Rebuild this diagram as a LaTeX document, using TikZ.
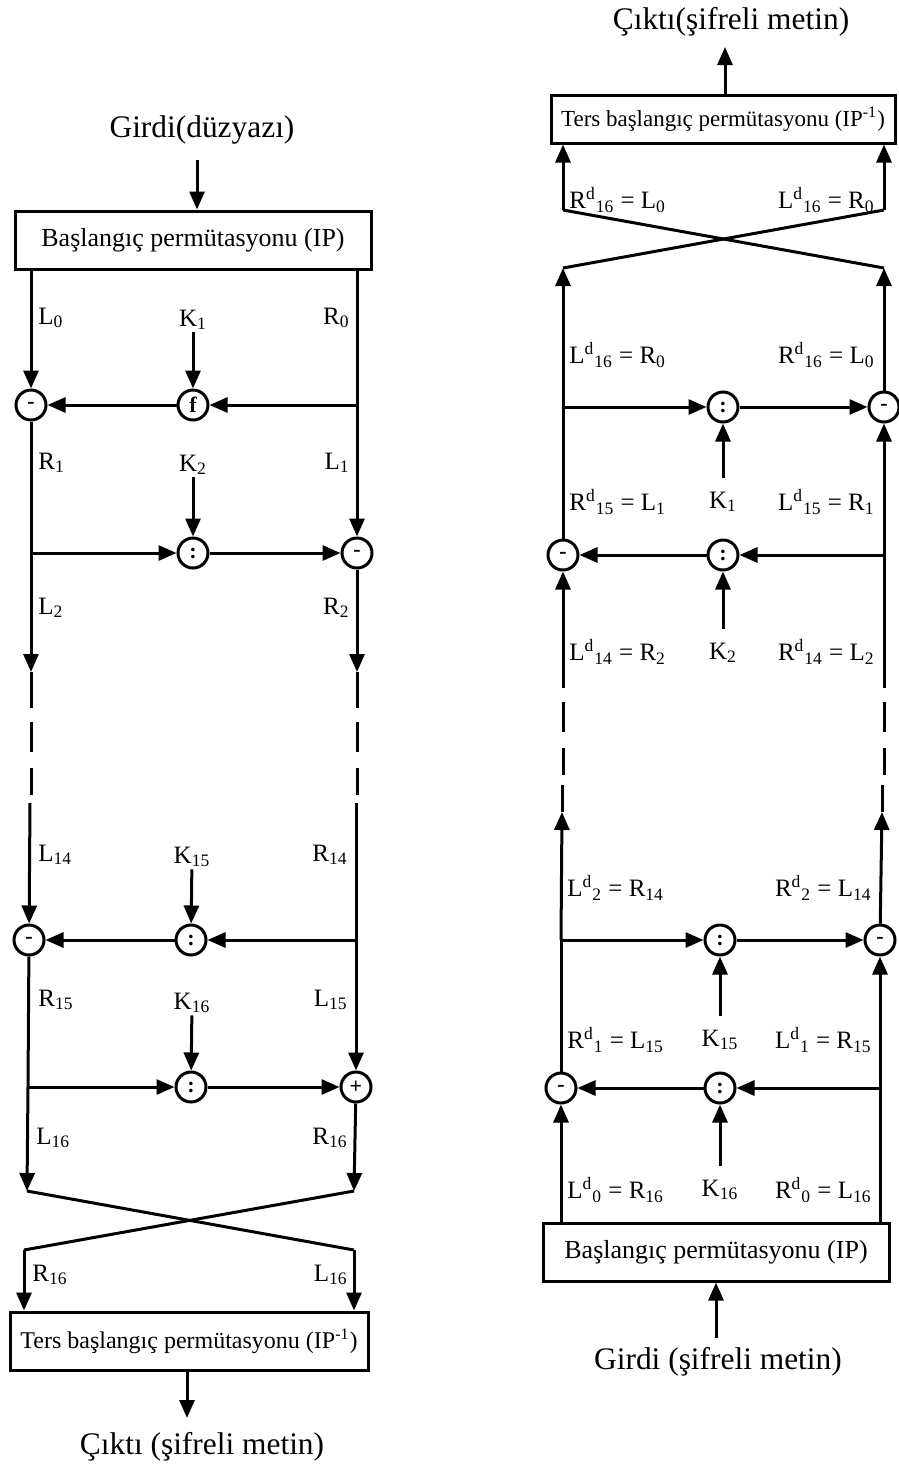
\documentclass[tikz,border=0pt]{standalone}
\usepackage{fontspec}
\setmainfont{Liberation Serif}
\usetikzlibrary{arrows.meta}

\newcommand{\Ld}[1]{L\textsuperscript{d}\textsubscript{#1}}
\newcommand{\Rd}[1]{R\textsuperscript{d}\textsubscript{#1}}

\tikzset{
  wire/.style={line width=1.5pt},
  arr/.style={wire,-{Triangle[length=9pt,width=7.5pt]}},
  dashwire/.style={wire,dash pattern=on 15pt off 8pt},
  opc/.style={circle,draw,line width=1.5pt,minimum size=15pt,inner sep=0pt,
    fill=white,font=\fontsize{11}{11}\selectfont\bfseries},
  permbox/.style={draw,line width=1.5pt,inner sep=0pt,minimum height=29pt,
    font=\fontsize{13}{15}\selectfont},
  lbl/.style={inner sep=1pt,font=\fontsize{12.5}{14}\selectfont},
  io/.style={inner sep=1pt,font=\fontsize{15.7}{18}\selectfont}
}

\begin{document}
\begin{tikzpicture}[x=0.5pt,y=-0.5pt]
    \useasboundingbox (0,0) rectangle (899,1469);

    % ---------------- Left: encryption ----------------
    \node[io] (inL) at (202,130) {Girdi(düzyazı)};
    \node[permbox,minimum width=178pt] (ipL) at (193,240) {Başlangıç permütasyonu (IP)};
    \coordinate (ga) at (197,160);
    \draw[arr] (ga) -- (ga |- ipL.north);

    % round 1
    \node[opc] (xl1) at (31,405) {-};
    \node[opc] (fl1) at (193,405) {f};
    \node[lbl] (kl1) at (193,320) {K\textsubscript{1}};
    \coordinate (rb1) at (357,405);
    \draw[arr] (xl1 |- ipL.south) -- (xl1);
    \draw[wire] (rb1 |- ipL.south) -- (rb1);
    \draw[arr] (rb1) -- (fl1);
    \draw[arr] (fl1) -- (xl1);
    \draw[arr] (kl1) -- (fl1);
    \node[lbl,anchor=west] (tl0) at (36,318) {L\textsubscript{0}};
    \node[lbl,anchor=east] (tr0) at (352,318) {R\textsubscript{0}};

    % round 2
    \node[opc] (xr2) at (357,553) {-};
    \node[opc] (fl2) at (193,553) {:};
    \node[lbl] (kl2) at (193,465) {K\textsubscript{2}};
    \coordinate (lb2) at (31,553);
    \draw[arr] (rb1) -- (xr2);
    \draw[wire] (xl1) -- (lb2);
    \draw[arr] (lb2) -- (fl2);
    \draw[arr] (fl2) -- (xr2);
    \draw[arr] (kl2) -- (fl2);
    \node[lbl,anchor=west] (tl1) at (36,463) {R\textsubscript{1}};
    \node[lbl,anchor=east] (tr1) at (352,463) {L\textsubscript{1}};

    % gap with dashes
    \coordinate (la2) at (31,672);  \coordinate (ra2) at (357,672);
    \coordinate (le2) at (31,708);  \coordinate (re2) at (357,708);
    \coordinate (ls2) at (31,722);  \coordinate (rs2) at (357,722);
    \coordinate (lt2) at (31,795);  \coordinate (rt2) at (357,795);
    \coordinate (lc2) at (30,803);  \coordinate (rc2) at (356,803);
    \draw[arr] (lb2) -- (la2);
    \draw[wire] (la2) -- (le2);
    \draw[arr] (xr2) -- (ra2);
    \draw[wire] (ra2) -- (re2);
    \draw[dashwire] (ls2) -- (lt2);
    \draw[dashwire] (rs2) -- (rt2);
    \node[lbl,anchor=west] (tl2) at (36,608) {L\textsubscript{2}};
    \node[lbl,anchor=east] (tr2) at (352,608) {R\textsubscript{2}};

    % round 15
    \node[opc] (xl3) at (29,940) {-};
    \node[opc] (fl3) at (191,940) {:};
    \node[lbl] (kl3) at (192,857) {K\textsubscript{15}};
    \coordinate (rb3) at (356,940);
    \draw[arr] (lc2) -- (xl3);
    \draw[wire] (rc2) -- (rb3);
    \draw[arr] (rb3) -- (fl3);
    \draw[arr] (fl3) -- (xl3);
    \draw[arr] (kl3) -- (fl3);
    \node[lbl,anchor=west] (tl14) at (36,855) {L\textsubscript{14}};
    \node[lbl,anchor=east] (tr14) at (350,855) {R\textsubscript{14}};

    % round 16
    \node[opc] (xr4) at (356,1087) {+};
    \node[opc] (fl4) at (191,1087) {:};
    \node[lbl] (kl4) at (192,1003) {K\textsubscript{16}};
    \coordinate (lb4) at (28,1087);
    \draw[arr] (rb3) -- (xr4);
    \draw[wire] (xl3) -- (lb4);
    \draw[arr] (lb4) -- (fl4);
    \draw[arr] (fl4) -- (xr4);
    \draw[arr] (kl4) -- (fl4);
    \node[lbl,anchor=west] (tl15) at (36,1000) {R\textsubscript{15}};
    \node[lbl,anchor=east] (tr15) at (350,1000) {L\textsubscript{15}};
    \node[lbl,anchor=west] (tl16) at (34,1138) {L\textsubscript{16}};
    \node[lbl,anchor=east] (tr16) at (350,1138) {R\textsubscript{16}};

    % swap
    \coordinate (cl1) at (27,1191);  \coordinate (cr1) at (354,1191);
    \coordinate (cl2) at (24,1250);  \coordinate (cr2) at (354,1250);
    \draw[arr] (lb4) -- (cl1);
    \draw[arr] (xr4) -- (cr1);
    \draw[wire] (cl1) -- (cr2);
    \draw[wire] (cr1) -- (cl2);

    \node[permbox,minimum width=179pt] (opL) at (189,1341)
        {\fontsize{12}{14}\selectfont Ters başlangıç permütasyonu (IP\textsuperscript{-1})};
    \draw[arr] (cl2) -- (cl2 |- opL.north);
    \draw[arr] (cr2) -- (cr2 |- opL.north);
    \node[lbl,anchor=west] (tl17) at (30,1275) {R\textsubscript{16}};
    \node[lbl,anchor=east] (tr17) at (350,1275) {L\textsubscript{16}};

    \node[io] (outL) at (202,1447) {Çıktı (şifreli metin)};
    \coordinate (oa) at (187,1418);
    \draw[arr] (opL.south -| oa) -- (oa);

    % ---------------- Right: decryption ----------------
    \node[io] (outR) at (731,22) {Çıktı(şifreli metin)};
    \node[permbox,minimum width=172pt,minimum height=24pt] (opR) at (723,119)
        {\fontsize{11.5}{13}\selectfont Ters başlangıç permütasyonu (IP\textsuperscript{-1})};
    \coordinate (oR) at (725,47);
    \draw[arr] (opR.north -| oR) -- (oR);

    % swap
    \coordinate (ct1) at (563,210);  \coordinate (ct2) at (884,210);
    \coordinate (cb1) at (563,268);  \coordinate (cb2) at (884,268);
    \draw[arr] (ct1) -- (ct1 |- opR.south);
    \draw[arr] (ct2) -- (ct2 |- opR.south);
    \draw[wire] (cb1) -- (ct2);
    \draw[wire] (cb2) -- (ct1);
    \node[lbl,anchor=west] (sl0) at (567,200) {\Rd{16} = L\textsubscript{0}};
    \node[lbl,anchor=east] (sr0) at (877,200) {\Ld{16} = R\textsubscript{0}};

    % round 1 (K1)
    \node[opc] (xr1) at (884,407) {-};
    \node[opc] (fr1) at (723,407) {:};
    \node[lbl] (kr1) at (723,502) {K\textsubscript{1}};
    \coordinate (lb1) at (563,407);
    \draw[arr] (xr1) -- (cb2);
    \draw[arr] (lb1) -- (cb1);
    \draw[arr] (lb1) -- (fr1);
    \draw[arr] (fr1) -- (xr1);
    \draw[arr,shorten <=6pt] (kr1) -- (fr1);
    \node[lbl,anchor=west] (sl1) at (567,355) {\Ld{16} = R\textsubscript{0}};
    \node[lbl,anchor=east] (sr1) at (877,355) {\Rd{16} = L\textsubscript{0}};

    % round 2 (K2)
    \node[opc] (xl2r) at (563,555) {-};
    \node[opc] (fr2) at (723,555) {:};
    \node[lbl] (kr2) at (723,653) {K\textsubscript{2}};
    \coordinate (rb2) at (884,555);
    \draw[wire] (xl2r) -- (lb1);
    \draw[arr] (rb2) -- (xr1);
    \draw[arr] (rb2) -- (fr2);
    \draw[arr] (fr2) -- (xl2r);
    \draw[arr,shorten <=6pt] (kr2) -- (fr2);
    \node[lbl,anchor=west] (sl2) at (567,502) {\Rd{15} = L\textsubscript{1}};
    \node[lbl,anchor=east] (sr2) at (877,502) {\Ld{15} = R\textsubscript{1}};
    \node[lbl,anchor=west] (sl3) at (567,652) {\Ld{14} = R\textsubscript{2}};
    \node[lbl,anchor=east] (sr3) at (877,652) {\Rd{14} = L\textsubscript{2}};

    % gap with dashes
    \coordinate (lu2) at (563,688);  \coordinate (ru2) at (884,688);
    \coordinate (ls3) at (563,702);  \coordinate (rs3) at (884,702);
    \coordinate (lt3) at (563,775);  \coordinate (rt3) at (884,775);
    \coordinate (ld3) at (562,785);  \coordinate (rd3) at (882,785);
    \coordinate (la3) at (562,812);  \coordinate (ra3) at (882,812);
    \draw[arr] (lu2) -- (xl2r);
    \draw[wire] (ru2) -- (rb2);
    \draw[dashwire] (ls3) -- (lt3);
    \draw[dashwire] (rs3) -- (rt3);
    \draw[wire] (la3) -- (ld3);
    \draw[wire] (ra3) -- (rd3);

    % round 15 (K15)
    \node[opc] (xr3) at (880,940) {-};
    \node[opc] (fr3) at (720,940) {:};
    \node[lbl] (kr3) at (720,1040) {K\textsubscript{15}};
    \coordinate (lb3) at (561,940);
    \draw[arr] (lb3) -- (la3);
    \draw[arr] (xr3) -- (ra3);
    \draw[arr] (lb3) -- (fr3);
    \draw[arr] (fr3) -- (xr3);
    \draw[arr,shorten <=6pt] (kr3) -- (fr3);
    \node[lbl,anchor=west] (sl4) at (565,888) {\Ld{2} = R\textsubscript{14}};
    \node[lbl,anchor=east] (sr4) at (874,888) {\Rd{2} = L\textsubscript{14}};

    % round 16 (K16)
    \node[opc] (xl4) at (561,1088) {-};
    \node[opc] (fr4) at (720,1088) {:};
    \node[lbl] (kr4) at (720,1190) {K\textsubscript{16}};
    \coordinate (rb4) at (880,1088);
    \draw[wire] (xl4) -- (lb3);
    \draw[arr] (rb4) -- (xr3);
    \draw[arr] (rb4) -- (fr4);
    \draw[arr] (fr4) -- (xl4);
    \draw[arr,shorten <=6pt] (kr4) -- (fr4);
    \node[lbl,anchor=west] (sl5) at (565,1040) {\Rd{1} = L\textsubscript{15}};
    \node[lbl,anchor=east] (sr5) at (874,1040) {\Ld{1} = R\textsubscript{15}};
    \node[lbl,anchor=west] (sl6) at (565,1190) {\Ld{0} = R\textsubscript{16}};
    \node[lbl,anchor=east] (sr6) at (874,1190) {\Rd{0} = L\textsubscript{16}};

    \node[permbox,minimum width=173pt] (ipR) at (716,1252) {Başlangıç permütasyonu (IP)};
    \draw[arr] (xl4 |- ipR.north) -- (xl4);
    \draw[wire] (rb4 |- ipR.north) -- (rb4);

    \node[io] (inR) at (718,1362) {Girdi (şifreli metin)};
    \coordinate (ia) at (716,1338);
    \draw[arr] (ia) -- (ia |- ipR.south);
\end{tikzpicture}
\end{document}
